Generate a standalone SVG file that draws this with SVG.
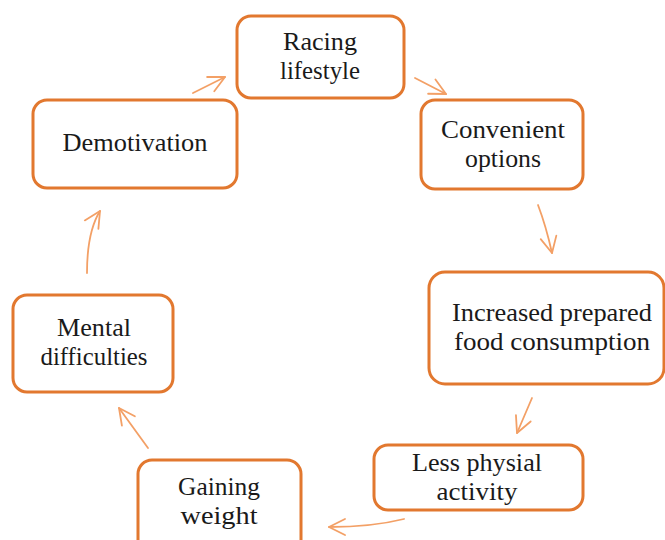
<svg xmlns="http://www.w3.org/2000/svg" width="665" height="540" viewBox="0 0 665 540">
<style>
.box{fill:#fff;stroke:#E2782F;stroke-width:3}
.lbl{font-family:"Liberation Serif","Times New Roman",serif;font-size:25px;fill:#1a1a1a;text-anchor:middle}
.arr{fill:none;stroke:#F3A066;stroke-width:1.8;stroke-linecap:round;marker-end:url(#ah)}
</style>
<defs>
<marker id="ah" markerUnits="userSpaceOnUse" viewBox="-18 -10 20 20" refX="0" refY="0" markerWidth="20" markerHeight="20" orient="auto">
<path d="M-16,-8 L0,0 L-16,8" fill="none" stroke="#F3A066" stroke-width="1.8" stroke-linecap="round" stroke-linejoin="round"/>
</marker>
</defs>
<rect width="665" height="540" fill="#fff"/>
<g id="racing">
<rect class="box" x="237" y="16" width="167" height="82" rx="14"/>
<text class="lbl" x="320" y="50" textLength="74" lengthAdjust="spacingAndGlyphs">Racing</text>
<text class="lbl" x="320" y="79" textLength="80" lengthAdjust="spacingAndGlyphs">lifestyle</text>
</g>
<g id="convenient">
<rect class="box" x="421" y="100" width="162" height="89" rx="14"/>
<text class="lbl" x="503" y="138" textLength="124" lengthAdjust="spacingAndGlyphs">Convenient</text>
<text class="lbl" x="503" y="167" textLength="76" lengthAdjust="spacingAndGlyphs">options</text>
</g>
<g id="demotivation">
<rect class="box" x="33" y="100" width="204" height="88" rx="14"/>
<text class="lbl" x="135" y="151" textLength="145" lengthAdjust="spacingAndGlyphs">Demotivation</text>
</g>
<g id="increased">
<rect class="box" x="429" y="272" width="235" height="112" rx="16"/>
<text class="lbl" x="552" y="321" textLength="200" lengthAdjust="spacingAndGlyphs">Increased prepared</text>
<text class="lbl" x="552" y="350" textLength="196" lengthAdjust="spacingAndGlyphs">food consumption</text>
</g>
<g id="mental">
<rect class="box" x="13" y="295" width="160" height="97" rx="14"/>
<text class="lbl" x="94" y="336" textLength="74" lengthAdjust="spacingAndGlyphs">Mental</text>
<text class="lbl" x="94" y="365" textLength="107" lengthAdjust="spacingAndGlyphs">difficulties</text>
</g>
<g id="less">
<rect class="box" x="374" y="445" width="209" height="65" rx="14"/>
<text class="lbl" x="477" y="471" textLength="130" lengthAdjust="spacingAndGlyphs">Less physial</text>
<text class="lbl" x="477" y="500" textLength="81" lengthAdjust="spacingAndGlyphs">activity</text>
</g>
<g id="gaining">
<rect class="box" x="138" y="460" width="163" height="100" rx="14"/>
<text class="lbl" x="219" y="495" textLength="82" lengthAdjust="spacingAndGlyphs">Gaining</text>
<text class="lbl" x="219" y="524" textLength="77" lengthAdjust="spacingAndGlyphs">weight</text>
</g>
<g id="connectors">
<path class="arr" d="M193,93 L225,77"/>
<path class="arr" d="M415,78 L446,94"/>
<path class="arr" d="M538,205 Q546,226 552,253"/>
<path class="arr" d="M532,398 L517,433"/>
<path class="arr" d="M404,519 Q372,527 329,527"/>
<path class="arr" d="M148,448 L119,408"/>
<path class="arr" d="M87,273 Q87,232 100,211"/>
</g>
</svg>
